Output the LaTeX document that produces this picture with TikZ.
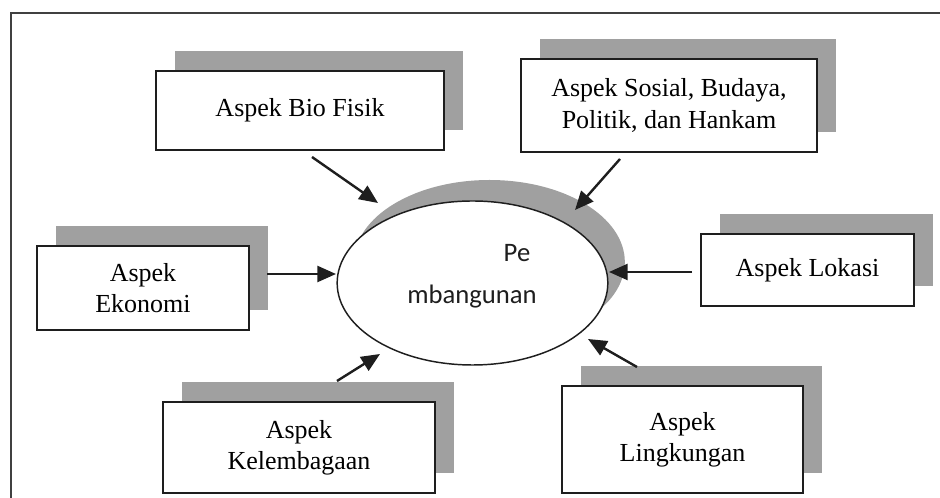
\documentclass[tikz,border=0pt]{standalone}
\usepackage{fontspec}
\setmainfont{Liberation Serif}
\setsansfont{Carlito}
\usetikzlibrary{shadows,arrows.meta,shapes.geometric}
\definecolor{shade}{HTML}{A0A0A0}
\definecolor{ink}{HTML}{1E1E1E}
\begin{document}
\begin{tikzpicture}[x=0.75pt,y=-0.75pt,
  aspect/.style={draw=ink, line width=1.4pt, fill=white, rectangle,
    align=center, inner sep=0pt,
    font=\fontsize{19.5}{23.3}\selectfont,
    general shadow={fill=shade, shadow xshift=14pt, shadow yshift=15pt}},
  core/.style={draw=ink, line width=1.1pt, fill=white, ellipse,
    minimum width=203pt, minimum height=123pt, inner sep=0pt,
    general shadow={fill=shade, shadow xshift=12.75pt, shadow yshift=15.75pt}},
  coretext/.style={font=\sffamily\fontsize{20}{24}\selectfont, inner sep=0pt, text=ink},
  influence/.style={draw=ink, line width=1.8pt,
    -{Triangle[length=14pt,width=12pt]}},
  frame/.style={draw=ink!85, line width=1.5pt}
]
\useasboundingbox (0,0) rectangle (940,498);

% outer frame (only top and left edges lie on the page)
\draw[frame] (11,520) -- (11,13) -- (960,13);

% central ellipse
\node[core] (pem) at (472.5,283) {};
\node[coretext] (pe) at (517,253) {Pe};
\node[coretext] (mb) at (472,297) {mbangunan};

% aspect boxes
\node[aspect, minimum width=216pt, minimum height=59.25pt] (bio) at (300,110.5) {Aspek Bio Fisik};
\node[aspect, minimum width=222pt, minimum height=69.75pt] (sos) at (669,105.5) {Aspek Sosial, Budaya,\\Politik, dan Hankam};
\node[aspect, minimum width=159pt, minimum height=63pt] (eko) at (143,288) {Aspek\\Ekonomi};
\node[aspect, minimum width=204pt, minimum height=68.25pt] (kel) at (299,447.5) {Aspek\\Kelembagaan};
\node[aspect, minimum width=159.75pt, minimum height=54pt] (lok) at (807.5,270) {Aspek Lokasi};
\node[aspect, minimum width=180.75pt, minimum height=80.25pt] (lin) at (682.5,439.5) {Aspek\\Lingkungan};

% arrow end points
\coordinate (bioS) at (312,157);  \coordinate (bioT) at (378,203);
\coordinate (sosS) at (620,159);  \coordinate (sosT) at (575,210);
\coordinate (ekoS) at (267,274);  \coordinate (ekoT) at (336,274);
\coordinate (kelS) at (337,381);  \coordinate (kelT) at (380,354);
\coordinate (lokS) at (692,272);  \coordinate (lokT) at (609,272);
\coordinate (linS) at (637,367);  \coordinate (linT) at (588,339);

\draw[influence] (bioS) -- (bioT);
\draw[influence] (sosS) -- (sosT);
\draw[influence] (ekoS) -- (ekoT);
\draw[influence] (kelS) -- (kelT);
\draw[influence] (lokS) -- (lokT);
\draw[influence] (linS) -- (linT);
\end{tikzpicture}
\end{document}
